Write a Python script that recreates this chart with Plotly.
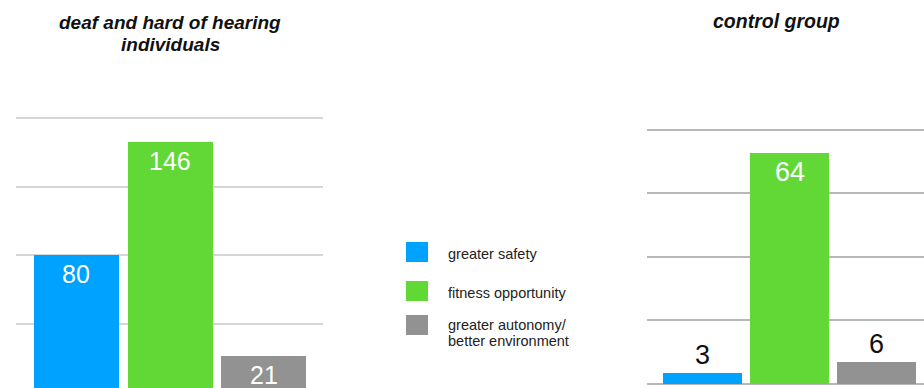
import plotly.graph_objects as go

# Reasons given, counts per group
categories = ["greater safety", "fitness opportunity", "greater autonomy/<br>better environment"]
deaf_counts = [80, 146, 21]
control_counts = [3, 64, 6]
colors = ["#00a2ff", "#61d836", "#929292"]

W, H = 924, 388
FONT = "Liberation Sans, Arial, Helvetica, sans-serif"

fig = go.Figure()

xs = [0, 1, 2]
fig.add_trace(go.Bar(x=xs, y=deaf_counts, marker=dict(color=colors, line=dict(width=0)),
                     width=0.907, xaxis="x", yaxis="y", showlegend=False, hoverinfo="skip"))
fig.add_trace(go.Bar(x=xs, y=control_counts, marker=dict(color=colors, line=dict(width=0)),
                     width=0.908, xaxis="x2", yaxis="y2", showlegend=False, hoverinfo="skip"))

annotations = []

# value labels: inside the bar top in white for tall bars, above in black for short ones
def add_labels(values, xref, yref, limit, size):
    for x, v in zip(xs, values):
        inside = v > limit
        annotations.append(dict(
            x=x, y=v, xref=xref, yref=yref, text=str(v), showarrow=False,
            yanchor="middle", yshift=-19 if inside else 18,
            font=dict(family=FONT, size=size, color="white" if inside else "#111111"),
        ))

add_labels(deaf_counts, "x", "y", 15, 25)
add_labels(control_counts, "x2", "y2", 15, 27)


def text_at(px_x, px_y, text, size, anchor="center", color="#111111"):
    annotations.append(dict(x=px_x / W, y=1 - px_y / H, xref="paper", yref="paper",
                            text=text, showarrow=False, xanchor=anchor, yanchor="middle",
                            align="left" if anchor == "left" else "center",
                            font=dict(family=FONT, size=size, color=color)))


# panel titles, one annotation per line for tight leading
text_at(170, 22, "<b><i>deaf and hard of hearing</i></b>", 19)
text_at(170, 44, "<b><i>individuals</i></b>", 19)
text_at(776, 21, "<b><i>control group</i></b>", 19.5)

# legend: colour swatches with their labels
shapes = []
swatch_tops = [242, 281, 315]
label_mid = [254, 293, 325]
for c, name, top, mid in zip(colors, categories, swatch_tops, label_mid):
    shapes.append(dict(type="rect", xref="paper", yref="paper",
                       x0=406 / W, x1=428 / W, y0=1 - (top + 20) / H, y1=1 - top / H,
                       fillcolor=c, line=dict(width=0)))
    for i, line in enumerate(name.split("<br>")):
        text_at(446, mid + 16 * i, line, 14.5, anchor="left", color="#222222")

fig.update_layout(
    width=W, height=H,
    margin=dict(l=0, r=0, t=0, b=0),
    paper_bgcolor="white", plot_bgcolor="white",
    showlegend=False,
    annotations=annotations, shapes=shapes,
    xaxis=dict(domain=[16 / W, 323 / W], range=[-0.645, 2.63], visible=False, fixedrange=True),
    yaxis=dict(domain=[0, 1], range=[2.336, 228.9], tickvals=[40, 80, 120, 160],
               showticklabels=False, showgrid=True, gridcolor="#d6d6d6", gridwidth=1.5,
               zeroline=False, showline=False, ticks=""),
    xaxis2=dict(domain=[647 / W, 1.0], range=[-0.638, 2.546], visible=False,
                anchor="y2", fixedrange=True),
    yaxis2=dict(domain=[0, 1], range=[-1.25, 106.53], anchor="x2",
                tickvals=[0, 17.6, 35.2, 52.8, 70.4],
                showticklabels=False, showgrid=True, gridcolor="#b8b8b8", gridwidth=1.5,
                zeroline=False, showline=False, ticks=""),
    bargap=0,
)

fig.write_html("out.html", config=dict(displayModeBar=False))
